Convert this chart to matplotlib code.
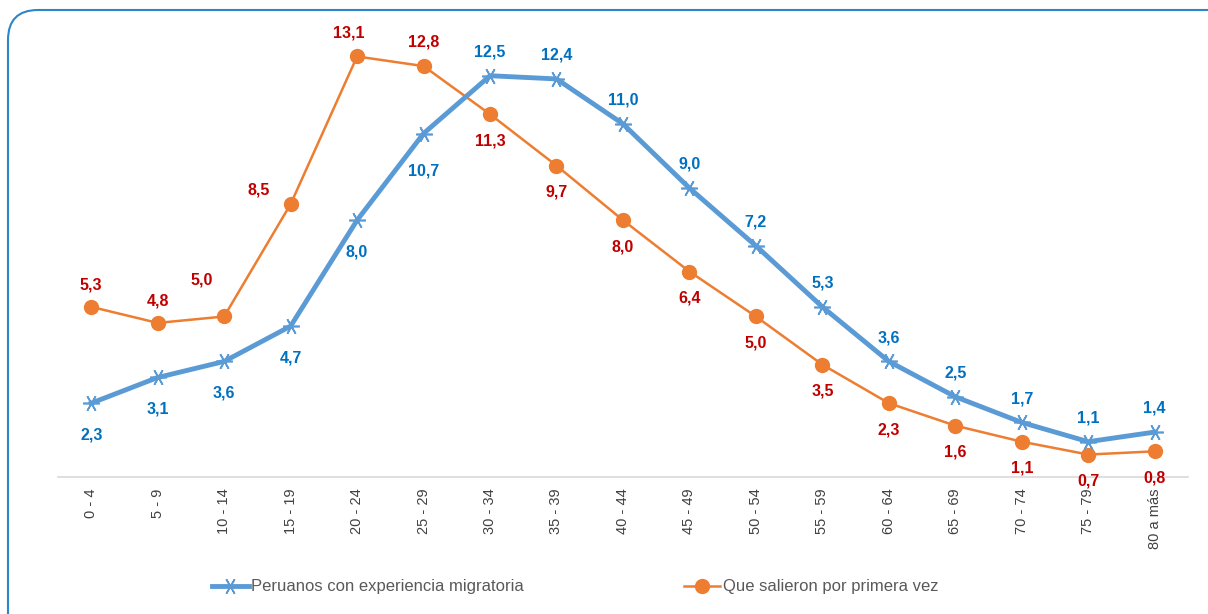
import matplotlib
matplotlib.use('Agg')
import matplotlib.pyplot as plt
from matplotlib.patches import FancyBboxPatch
from matplotlib import font_manager
import numpy as np

# font: condensed look if available
names = {f.name for f in font_manager.fontManager.ttflist}
FONT = 'Liberation Sans Narrow' if 'Liberation Sans Narrow' in names else 'Liberation Sans'
plt.rcParams['font.family'] = [FONT, 'DejaVu Sans']

grupos = ['0 - 4', '5 - 9', '10 - 14', '15 - 19', '20 - 24', '25 - 29', '30 - 34',
          '35 - 39', '40 - 44', '45 - 49', '50 - 54', '55 - 59', '60 - 64',
          '65 - 69', '70 - 74', '75 - 79', '80 a más']
experiencia = [2.3, 3.1, 3.6, 4.7, 8.0, 10.7, 12.5, 12.4, 11.0, 9.0, 7.2, 5.3, 3.6, 2.5, 1.7, 1.1, 1.4]
primera_vez = [5.3, 4.8, 5.0, 8.5, 13.1, 12.8, 11.3, 9.7, 8.0, 6.4, 5.0, 3.5, 2.3, 1.6, 1.1, 0.7, 0.8]

# label offsets in points (dx, dy), label centred there
off_exp = [(0, -23)] * 5 + [(0, -27)] + [(0, 17)] * 11
off_pv = [(0, 16), (0, 16), (-16, 26), (-23, 10), (-6, 17), (0, 17)] + [(0, -19)] * 11

BLUE = '#5B9BD5'
BLUE_TXT = '#0070C0'
ORANGE = '#ED7D31'
RED_TXT = '#C00000'

fig = plt.figure(figsize=(12.08, 6.14), dpi=100)
ax = fig.add_axes([0.048, 0.2231, 0.9354, 0.732])

x = np.arange(len(grupos))
ax.plot(x, experiencia, color=BLUE, lw=3.5, marker=(6, 2, 90), ms=12, mew=1.2,
        label='Peruanos con experiencia migratoria', zorder=3)
ax.plot(x, primera_vez, color=ORANGE, lw=1.8, marker='o', ms=10,
        label='Que salieron por primera vez', zorder=2)

def put_labels(vals, offs, color):
    for i, v in enumerate(vals):
        txt = f'{v:.1f}'.replace('.', ',')
        ax.annotate(txt, (i, v), xytext=offs[i], textcoords='offset points',
                    ha='center', va='center', color=color, fontsize=11.5,
                    fontweight='bold')

put_labels(experiencia, off_exp, BLUE_TXT)
put_labels(primera_vez, off_pv, RED_TXT)

ax.set_xlim(-0.5, len(grupos) - 0.5)
ax.set_ylim(0, 14)
ax.set_xticks(x)
ax.set_xticklabels(grupos, rotation=90, fontsize=10.5, color='#404040')
ax.tick_params(axis='x', length=0, pad=8)
ax.set_yticks([])
for s in ['top', 'right', 'left']:
    ax.spines[s].set_visible(False)
ax.spines['bottom'].set_color('#D9D9D9')
ax.spines['bottom'].set_linewidth(1.2)

fig.legend(loc='center left', bbox_to_anchor=(0.163, 0.044), ncol=2, frameon=False,
           fontsize=12, labelcolor='#595959', handlelength=2.2, handletextpad=0.15,
           columnspacing=9.6)

# rounded frame around the chart
frame = FancyBboxPatch((0.08, -0.3), 12.3, 6.34, boxstyle='round,pad=0,rounding_size=0.3',
                       transform=fig.dpi_scale_trans, fill=False, ec='#2E86C8', lw=1.5,
                       clip_on=False)
fig.patches.append(frame)

fig.savefig('out.png', dpi=100)
